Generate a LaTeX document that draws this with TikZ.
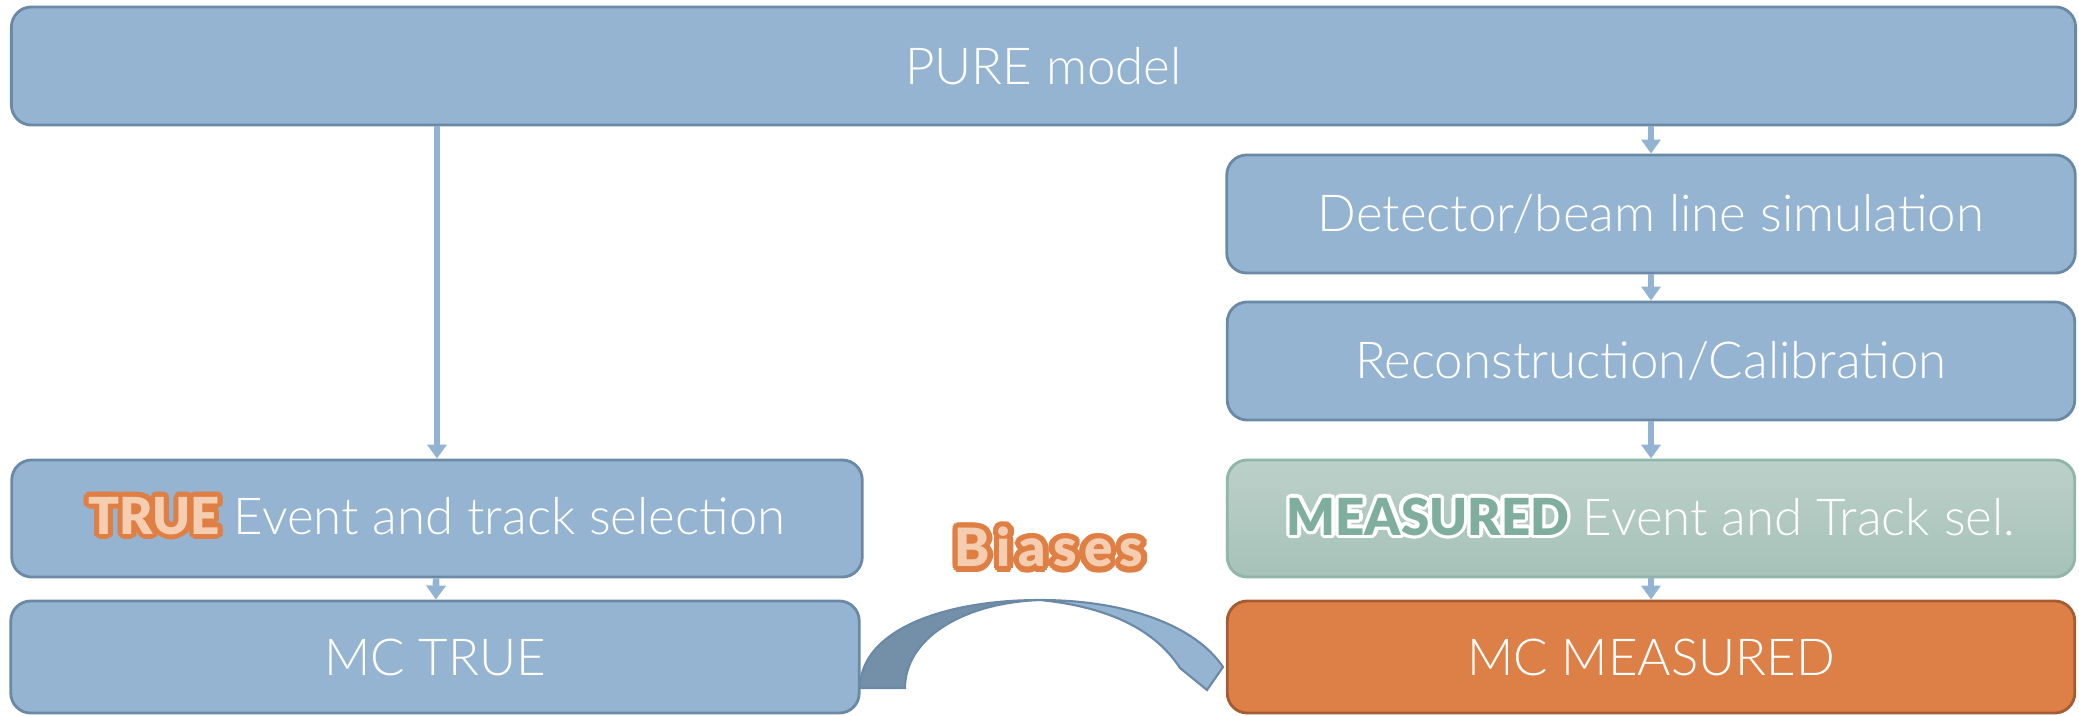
\documentclass[tikz,border=0pt]{standalone}
\usepackage{fontspec}
\setmainfont{Lato Light}
\newfontfamily\heavyfont{Lato Black}
\newfontfamily\biasfont{Lato Black}[LetterSpace=14]
\usepackage[copies]{contour}
\usetikzlibrary{arrows.meta}

\definecolor{boxblue}{HTML}{94B4D2}
\definecolor{boxedge}{HTML}{6A89A4}
\definecolor{flowblue}{HTML}{93B3D3}
\definecolor{meastop}{HTML}{BCD0CA}
\definecolor{measbot}{HTML}{A6C2B8}
\definecolor{measedge}{HTML}{8FB6A8}
\definecolor{measteal}{HTML}{7FAE9E}
\definecolor{mcorange}{HTML}{DD8047}
\definecolor{mcedge}{HTML}{A55C32}
\definecolor{tagorange}{HTML}{E07F44}
\definecolor{tagpeach}{HTML}{F5CDB0}
\definecolor{biasdark}{HTML}{7390A8}

\tikzset{
  box/.style={draw=boxedge, line width=0.8pt, fill=boxblue, rounded corners=0.2cm,
    text=white, font=\fontsize{14.5}{17}\selectfont, inner sep=0pt},
  flow/.style={draw=flowblue, line width=1.9pt, -{Triangle[width=0.19cm,length=0.14cm]}}
}

\begin{document}
\begin{tikzpicture}[x=0.01cm,y=-0.01cm]
       \useasboundingbox (0,0) rectangle (2079,715);
       % top box
       \node[box, minimum width=20.63cm, minimum height=1.18cm] (pure) at (1043.5,66) {PURE model};
       % measured chain
       \node[box, minimum width=8.48cm, minimum height=1.18cm] (detsim) at (1651,214) {Detector/beam line simulation};
       \node[box, minimum width=8.47cm, minimum height=1.18cm] (reco) at (1651,361) {Reconstruction/Calibration};
       \node[box, draw=measedge, top color=meastop, bottom color=measbot, minimum width=8.47cm, minimum height=1.17cm] (meassel) at (1651,518.5)
            {\contourlength{1pt}\contour{white}{\heavyfont\textcolor{measteal}{MEASURED}} Event and Track sel.};
       \node[box, draw=mcedge, fill=mcorange, minimum width=8.47cm, minimum height=1.12cm] (mcmeas) at (1651,657) {MC MEASURED};
       % true chain
       \node[box, minimum width=8.5cm, minimum height=1.17cm] (truesel) at (437,518.5)
            {\contourlength{1.4pt}\contour{tagorange}{\heavyfont\textcolor{tagpeach}{TRUE}} Event and track selection};
       \node[box, minimum width=8.48cm, minimum height=1.12cm] (mctrue) at (435,657) {MC TRUE};
       % arrows
       \draw[flow] (truesel.north |- pure.south) -- (truesel.north);
       \draw[flow] (truesel) -- (mctrue);
       \draw[flow] (detsim.north |- pure.south) -- (detsim.north);
       \draw[flow] (detsim) -- (reco);
       \draw[flow] (reco) -- (meassel);
       \draw[flow] (meassel) -- (mcmeas);
       % curved arrow between the two MC boxes
       \coordinate (bend) at (1040,600);
       \fill[biasdark, draw=boxedge, line width=0.6pt] (860,688) .. controls (860,632) and (940,600) .. (bend)
            .. controls (960,603) and (905,640) .. (905,688) -- cycle;
       \fill[boxblue, draw=boxedge, line width=0.6pt] (bend) .. controls (1125,600) and (1195,625) .. (1223,667)
            -- (1207,690) -- (1180,668) .. controls (1152,625) and (1100,606) .. (bend) -- cycle;
       \node[font=\biasfont\fontsize{15}{17}\selectfont] (biases) at (1049,550)
            {\contourlength{1.6pt}\contour{tagorange}{\textcolor{tagpeach}{Biases}}};
\end{tikzpicture}
\end{document}
